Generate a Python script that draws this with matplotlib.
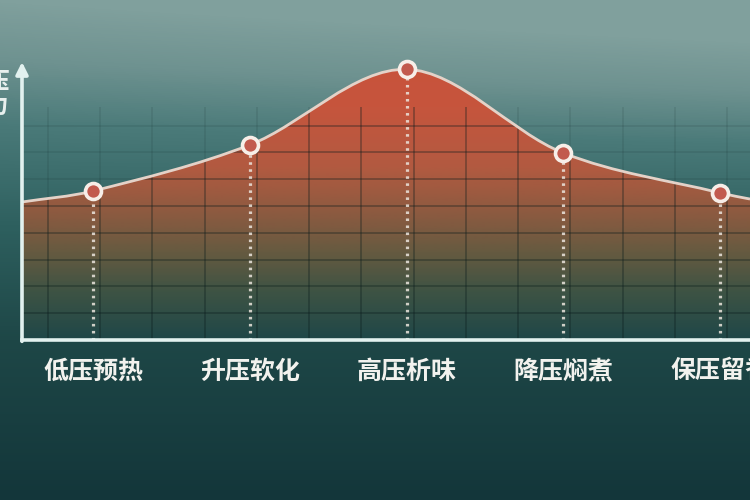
import numpy as np
import matplotlib
matplotlib.use("Agg")
import matplotlib.pyplot as plt
from matplotlib.path import Path
from matplotlib.patches import PathPatch
from matplotlib.colors import LinearSegmentedColormap

plt.rcParams['font.family'] = ['Noto Sans CJK SC', 'DejaVu Sans']

# ---- data ----
stages = ["低压预热", "升压软化", "高压析味", "降压焖煮", "保压留香"]
pressure = [5.56, 7.28, 10.1, 6.98, 5.49]
edge_x = [-0.453, 4.191]          # curve continues to the plot edges
edge_pressure = [5.15, 5.26]
y_label = "压\n力"

# ---- figure ----
W, H = 750, 500
fig = plt.figure(figsize=(7.5, 5), dpi=100)

# background gradient
bg = fig.add_axes([0, 0, 1, 1])
bg.set_axis_off()
yy, xx = np.mgrid[0:1:500j, 0:1:750j]
bg_cmap = LinearSegmentedColormap.from_list(
    "bg", [(0.0, "#80a09d"), (0.12, "#6e9290"), (0.25, "#4a7a79"),
           (0.45, "#2e605f"), (0.68, "#1e4747"), (1.0, "#13363a")])
vals = yy - 0.10 * xx * np.clip(1 - yy * 2.2, 0, 1)
bg.imshow(bg_cmap(np.clip(vals, 0, 1)), extent=[0, 1, 0, 1], origin="upper",
          aspect="auto", zorder=0)
bg.set_xlim(0, 1); bg.set_ylim(0, 1)

# main axes
ax_left, ax_bottom = 22 / W, 160 / H
ax = fig.add_axes([ax_left, ax_bottom, 1 - ax_left, 1 - ax_bottom])
ax.patch.set_alpha(0)
unit_px = 26.8
ytop = 340 / unit_px
ax.set_xlim(edge_x[0], edge_x[1])
ax.set_ylim(0, ytop)
for s in ax.spines.values():
    s.set_visible(False)

# smooth curve through points (cubic Hermite -> Bezier)
px = np.array([edge_x[0]] + list(range(len(stages))) + [edge_x[1]], dtype=float)
py = np.array([edge_pressure[0]] + pressure + [edge_pressure[1]], dtype=float)
n = len(px)
m = np.zeros(n)
for i in range(n):
    if i == 0:
        m[i] = (py[1] - py[0]) / (px[1] - px[0])
    elif i == n - 1:
        m[i] = (py[-1] - py[-2]) / (px[-1] - px[-2])
    else:
        m[i] = (py[i + 1] - py[i - 1]) / (px[i + 1] - px[i - 1])
verts = [(px[0], py[0])]
codes = [Path.MOVETO]
for i in range(n - 1):
    dx = px[i + 1] - px[i]
    verts += [(px[i] + dx / 3, py[i] + m[i] * dx / 3),
              (px[i + 1] - dx / 3, py[i + 1] - m[i + 1] * dx / 3),
              (px[i + 1], py[i + 1])]
    codes += [Path.CURVE4] * 3
line_path = Path(verts, codes)
fill_path = Path(verts + [(px[-1], 0), (px[0], 0), (px[0], py[0])],
                 codes + [Path.LINETO, Path.LINETO, Path.CLOSEPOLY])

# gradient fill clipped to area under curve
fill_patch = PathPatch(fill_path, facecolor="none", edgecolor="none")
ax.add_patch(fill_patch)
fill_cmap = LinearSegmentedColormap.from_list(
    "fill", [(0.0, "#cc4f39"), (0.30, "#c6553d"), (0.48, "#b25a41"),
             (0.62, "#8c5a40"), (0.74, "#655a40"), (0.86, "#3d5344"),
             (1.0, "#1f4748")])
grad = np.linspace(0, 1, 300)[:, None]
img = ax.imshow(fill_cmap(grad), extent=[edge_x[0], edge_x[1], 0, 12.4],
                origin="upper", aspect="auto", zorder=1)
img.set_clip_path(fill_patch)

# grid: faint over background, stronger inside the filled area
gx = np.arange(-1, 13) / 3 + 0.045
gy = np.arange(1, 9)
ax.vlines(gx, 0, 8.7, colors="#0b2020", alpha=0.10, lw=1.3, zorder=2)
ax.hlines(gy, edge_x[0], edge_x[1], colors="#0b2020", alpha=0.10, lw=1.3,
          zorder=2)
v_in = ax.vlines(gx, 0, 8.7, colors="#0b1c1c", alpha=0.26, lw=1.3, zorder=2)
h_in = ax.hlines(gy, edge_x[0], edge_x[1], colors="#0b1c1c", alpha=0.26,
                 lw=1.3, zorder=2)
v_in.set_clip_path(fill_patch)
h_in.set_clip_path(fill_patch)

# curve line
ax.add_patch(PathPatch(line_path, facecolor="none", edgecolor="#e4d2c8",
                       lw=2.0, zorder=3))

# dotted drop lines
xi = np.arange(len(stages))
ax.vlines(xi, 0, pressure, colors="#ece6de", linestyles=(0, (0.8, 1.4)),
          lw=2.3, alpha=0.85, zorder=4)

# markers
ax.plot(xi, pressure, "o", ms=11.5, mfc="#c25a4e", mec="#f7eee8", mew=2.6,
        zorder=6, clip_on=False)

# axes lines
axis_col = "#e2f1ef"
ax.axhline(0, color=axis_col, lw=2.6, zorder=7, clip_on=False)
ax.annotate("", xy=(0, 1 - 62 / 340), xytext=(0, -0.004),
            xycoords="axes fraction",
            arrowprops=dict(arrowstyle="-|>", color=axis_col, lw=2.6,
                            mutation_scale=18, shrinkA=0, shrinkB=0),
            annotation_clip=False, zorder=7)

# ticks / labels
ax.set_yticks([])
ax.set_xticks(xi)
ax.set_xticklabels(stages, fontsize=18, fontweight="bold", color="#f2f2ee")
ax.tick_params(axis="x", length=0, pad=14)

fig.text(-3 / W, 1 - 94 / H, y_label, fontsize=17, color="#e8f0ee",
         ha="center", va="center", linespacing=1.05, fontweight="bold")

fig.savefig("out.png", dpi=100)
